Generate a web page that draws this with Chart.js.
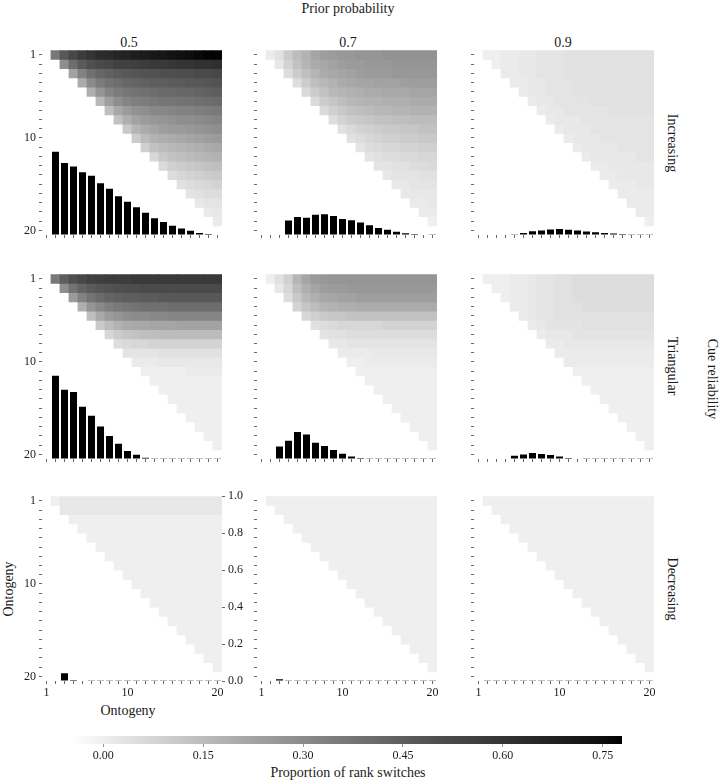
<!DOCTYPE html>
<html lang="en">
<head>
<meta charset="UTF-8">
<title>Proportion of rank switches</title>
<script src="https://cdn.jsdelivr.net/npm/chart.js"></script>
<style>
  body { margin: 0; background: #fff; }
  #page { position: relative; width: 720px; height: 782px; overflow: hidden;
           font-family: 'Liberation Serif', serif; color: #1a1a1a; }
  canvas { position: absolute; }
  .lbl { position: absolute; transform: translate(-50%, -50%); white-space: nowrap; font-size: 14px; }
  .rot { transform: translate(-50%, -50%) rotate(90deg); }
  .rotl { transform: translate(-50%, -50%) rotate(-90deg); }
</style>
</head>
<body>
<div id="page">
  <div class="lbl" style="left:348px;top:9px">Prior probability</div>
  <div class="lbl rot" style="left:712px;top:379px">Cue reliability</div>
  <div class="lbl rotl" style="left:9px;top:589px">Ontogeny</div>
  <div class="lbl" style="left:128px;top:711px">Ontogeny</div>
  <div class="lbl" style="left:348px;top:773px">Proportion of rank switches</div>
</div>

<script>
// --- data ---------------------------------------------------------------
const ontogeny = [1, 2, 3, 4, 5, 6, 7, 8, 9, 10, 11, 12, 13, 14, 15, 16, 17, 18, 19, 20];
const ontogenyLabels = [1, 10, 20];
const priorLabels = ['0.5', '0.7', '0.9'];
const reliabilityLabels = ['Increasing', 'Triangular', 'Decreasing'];
const rightTicks = [0, 0.2, 0.4, 0.6, 0.8, 1.0];
const colorTicks = [0, 0.15, 0.30, 0.45, 0.60, 0.75];
const fillMin = -0.047;
const fillMax = 0.779;

// heatmaps: row r (1..19) holds columns r+1..20
const heatInc05 = [
  [.36,.47,.53,.57,.60,.63,.64,.66,.67,.69,.70,.71,.72,.73,.74,.75,.76,.77,.77],
  [.29,.40,.46,.50,.52,.53,.55,.55,.56,.57,.58,.58,.59,.60,.60,.61,.61,.62],
  [.23,.33,.39,.42,.44,.46,.47,.48,.49,.49,.50,.50,.51,.51,.52,.52,.53],
  [.20,.30,.35,.38,.40,.42,.43,.44,.45,.45,.46,.46,.47,.47,.48,.49],
  [.19,.27,.32,.35,.37,.38,.39,.40,.41,.41,.42,.42,.43,.44,.45],
  [.16,.24,.29,.32,.34,.35,.36,.37,.37,.38,.38,.39,.40,.41],
  [.14,.21,.25,.28,.29,.31,.31,.32,.33,.33,.34,.35,.36],
  [.13,.19,.23,.25,.26,.27,.28,.29,.29,.30,.31,.32],
  [.11,.17,.20,.22,.24,.25,.25,.26,.27,.28,.29],
  [.10,.15,.18,.19,.20,.21,.22,.23,.24,.25],
  [.09,.13,.15,.16,.17,.18,.19,.20,.21],
  [.07,.11,.13,.14,.15,.16,.17,.18],
  [.06,.09,.10,.11,.12,.13,.14],
  [.05,.07,.08,.09,.10,.11],
  [.04,.05,.06,.07,.08],
  [.03,.04,.05,.05],
  [.02,.03,.03],
  [.01,.02],
  [.01]
];
const heatInc07 = [
  [.01,.04,.10,.15,.18,.22,.24,.25,.26,.26,.27,.27,.27,.28,.28,.28,.28,.28,.28],
  [.02,.08,.13,.17,.20,.21,.23,.24,.25,.25,.26,.26,.26,.27,.27,.27,.27,.27],
  [.05,.10,.14,.17,.20,.21,.22,.23,.24,.25,.25,.25,.26,.26,.26,.26,.26],
  [.05,.10,.14,.16,.18,.20,.21,.22,.22,.23,.23,.23,.24,.24,.24,.24],
  [.06,.10,.13,.16,.17,.18,.19,.20,.20,.21,.21,.21,.22,.22,.22],
  [.06,.10,.12,.14,.16,.17,.18,.18,.19,.19,.19,.20,.20,.20],
  [.06,.09,.11,.13,.14,.15,.16,.16,.17,.17,.18,.18,.18],
  [.05,.08,.10,.11,.12,.13,.13,.14,.14,.15,.15,.15],
  [.04,.06,.08,.09,.10,.11,.11,.12,.12,.13,.13],
  [.04,.05,.07,.08,.09,.09,.10,.10,.11,.11],
  [.03,.05,.06,.07,.07,.08,.08,.09,.09],
  [.03,.04,.05,.05,.06,.06,.07,.07],
  [.03,.03,.04,.04,.05,.05,.06],
  [.02,.03,.03,.03,.04,.04],
  [.02,.02,.03,.03,.03],
  [.02,.02,.02,.02],
  [.01,.01,.02],
  [.01,.01],
  [0]
];
const heatInc09 = [
  [0,0,.01,.01,.02,.02,.03,.03,.03,.04,.04,.04,.04,.04,.04,.04,.04,.04,.04],
  [0,.01,.01,.02,.02,.03,.03,.03,.04,.04,.04,.04,.04,.04,.04,.04,.04,.04],
  [.01,.01,.02,.02,.03,.03,.03,.04,.04,.04,.04,.04,.04,.04,.04,.04,.04],
  [.01,.01,.02,.02,.03,.03,.03,.04,.04,.04,.04,.04,.04,.04,.04,.04],
  [.01,.02,.02,.03,.03,.03,.04,.04,.04,.04,.04,.04,.04,.04,.04],
  [.01,.02,.02,.03,.03,.03,.03,.04,.04,.04,.04,.04,.04,.04],
  [.01,.02,.02,.03,.03,.03,.03,.03,.04,.04,.04,.04,.04],
  [.01,.02,.02,.02,.03,.03,.03,.03,.03,.03,.03,.03],
  [.01,.02,.02,.02,.03,.03,.03,.03,.03,.03,.03],
  [.01,.02,.02,.02,.03,.03,.03,.03,.03,.03],
  [.01,.02,.02,.02,.02,.03,.03,.03,.03],
  [.01,.02,.02,.02,.02,.02,.03,.03],
  [.01,.01,.02,.02,.02,.02,.02],
  [.01,.01,.02,.02,.02,.02],
  [.01,.01,.01,.02,.02],
  [.01,.01,.01,.01],
  [.01,.01,.01],
  [.01,.01],
  [0]
];
const heatTri05 = [
  [.36,.45,.50,.53,.55,.56,.57,.57,.57,.58,.58,.58,.58,.58,.58,.58,.58,.58,.58],
  [.29,.38,.43,.46,.48,.49,.50,.51,.51,.52,.52,.52,.52,.52,.52,.52,.52,.52],
  [.25,.33,.38,.41,.43,.44,.45,.45,.46,.46,.47,.47,.47,.47,.47,.47,.47],
  [.19,.27,.31,.34,.36,.37,.38,.39,.39,.39,.40,.40,.40,.40,.40,.40],
  [.14,.21,.25,.27,.29,.30,.30,.31,.31,.32,.32,.32,.32,.32,.32],
  [.11,.15,.18,.20,.21,.21,.22,.22,.22,.23,.23,.23,.23,.23],
  [.07,.10,.12,.13,.14,.14,.15,.15,.15,.15,.15,.15,.15],
  [.05,.06,.07,.07,.08,.08,.08,.08,.08,.08,.08,.08],
  [.03,.03,.03,.03,.04,.04,.04,.04,.04,.04,.04],
  [.01,.01,.01,.02,.02,.02,.02,.02,.02,.02],
  [0,0,0,0,0,.01,.01,.01,.01],
  [0,0,0,0,0,0,0,0],
  [0,0,0,0,0,0,0],
  [0,0,0,0,0,0],
  [0,0,0,0,0],
  [0,0,0,0],
  [0,0,0],
  [0,0],
  [0]
];
const heatTri07 = [
  [0,.04,.09,.17,.22,.25,.26,.27,.27,.27,.27,.27,.27,.27,.27,.27,.27,.27,.27],
  [.02,.07,.14,.19,.22,.24,.25,.25,.26,.26,.26,.26,.26,.26,.26,.26,.26,.26],
  [.05,.11,.16,.19,.21,.22,.23,.23,.24,.24,.24,.24,.24,.24,.24,.24,.24],
  [.08,.12,.15,.17,.18,.19,.19,.20,.20,.20,.20,.20,.20,.20,.20,.20],
  [.07,.09,.11,.12,.12,.13,.13,.13,.13,.13,.13,.13,.13,.13,.13],
  [.04,.05,.06,.07,.07,.07,.07,.07,.08,.08,.08,.08,.08,.08],
  [.03,.04,.04,.05,.05,.05,.05,.05,.05,.05,.05,.05,.05],
  [.02,.02,.03,.03,.03,.03,.03,.03,.03,.03,.03,.03],
  [.01,.01,.01,.01,.02,.02,.02,.02,.02,.02,.02],
  [0,0,.01,.01,.01,.01,.01,.01,.01,.01],
  [0,0,0,0,0,0,0,0,0],
  [0,0,0,0,0,0,0,0],
  [0,0,0,0,0,0,0],
  [0,0,0,0,0,0],
  [0,0,0,0,0],
  [0,0,0,0],
  [0,0,0],
  [0,0],
  [0]
];
const heatTri09 = [
  [0,0,0,.01,.01,.02,.03,.03,.04,.04,.05,.05,.05,.05,.05,.05,.05,.05,.05],
  [0,0,.01,.01,.02,.03,.03,.04,.04,.05,.05,.05,.05,.05,.05,.05,.05,.05],
  [0,.01,.01,.02,.03,.03,.04,.04,.05,.05,.05,.05,.05,.05,.05,.05,.05],
  [.01,.01,.02,.03,.03,.04,.04,.04,.05,.05,.05,.05,.05,.05,.05,.05],
  [.01,.02,.03,.03,.04,.04,.04,.04,.04,.04,.04,.04,.04,.04,.04],
  [.01,.02,.03,.03,.03,.03,.04,.04,.04,.04,.04,.04,.04,.04],
  [.01,.02,.02,.02,.03,.03,.03,.03,.03,.03,.03,.03,.03],
  [.01,.01,.02,.02,.02,.02,.02,.02,.02,.02,.02,.02],
  [.01,.01,.01,.01,.01,.01,.01,.01,.01,.01,.01],
  [.01,.01,.01,.01,.01,.01,.01,.01,.01,.01],
  [0,0,0,0,0,0,0,0,0],
  [0,0,0,0,0,0,0,0],
  [0,0,0,0,0,0,0],
  [0,0,0,0,0,0],
  [0,0,0,0,0],
  [0,0,0,0],
  [0,0,0],
  [0,0],
  [0]
];
const heatDec05 = [
  [0,.02,.02,.02,.02,.02,.02,.02,.02,.02,.02,.02,.02,.02,.02,.02,.02,.02,.02],
  [.02,.02,.02,.02,.02,.02,.02,.02,.02,.02,.02,.02,.02,.02,.02,.02,.02,.02],
  [0,0,0,0,0,0,0,0,0,0,0,0,0,0,0,0,0],
  [0,0,0,0,0,0,0,0,0,0,0,0,0,0,0,0],
  [0,0,0,0,0,0,0,0,0,0,0,0,0,0,0],
  [0,0,0,0,0,0,0,0,0,0,0,0,0,0],
  [0,0,0,0,0,0,0,0,0,0,0,0,0],
  [0,0,0,0,0,0,0,0,0,0,0,0],
  [0,0,0,0,0,0,0,0,0,0,0],
  [0,0,0,0,0,0,0,0,0,0],
  [0,0,0,0,0,0,0,0,0],
  [0,0,0,0,0,0,0,0],
  [0,0,0,0,0,0,0],
  [0,0,0,0,0,0],
  [0,0,0,0,0],
  [0,0,0,0],
  [0,0,0],
  [0,0],
  [0]
];
const heatDec07 = [
  [0,0,0,0,0,0,0,0,0,0,0,0,0,0,0,0,0,0,0],
  [0,0,0,0,0,0,0,0,0,0,0,0,0,0,0,0,0,0],
  [0,0,0,0,0,0,0,0,0,0,0,0,0,0,0,0,0],
  [0,0,0,0,0,0,0,0,0,0,0,0,0,0,0,0],
  [0,0,0,0,0,0,0,0,0,0,0,0,0,0,0],
  [0,0,0,0,0,0,0,0,0,0,0,0,0,0],
  [0,0,0,0,0,0,0,0,0,0,0,0,0],
  [0,0,0,0,0,0,0,0,0,0,0,0],
  [0,0,0,0,0,0,0,0,0,0,0],
  [0,0,0,0,0,0,0,0,0,0],
  [0,0,0,0,0,0,0,0,0],
  [0,0,0,0,0,0,0,0],
  [0,0,0,0,0,0,0],
  [0,0,0,0,0,0],
  [0,0,0,0,0],
  [0,0,0,0],
  [0,0,0],
  [0,0],
  [0]
];
const heatDec09 = [
  [0,0,0,0,0,0,0,0,0,0,0,0,0,0,0,0,0,0,0],
  [0,0,0,0,0,0,0,0,0,0,0,0,0,0,0,0,0,0],
  [0,0,0,0,0,0,0,0,0,0,0,0,0,0,0,0,0],
  [0,0,0,0,0,0,0,0,0,0,0,0,0,0,0,0],
  [0,0,0,0,0,0,0,0,0,0,0,0,0,0,0],
  [0,0,0,0,0,0,0,0,0,0,0,0,0,0],
  [0,0,0,0,0,0,0,0,0,0,0,0,0],
  [0,0,0,0,0,0,0,0,0,0,0,0],
  [0,0,0,0,0,0,0,0,0,0,0],
  [0,0,0,0,0,0,0,0,0,0],
  [0,0,0,0,0,0,0,0,0],
  [0,0,0,0,0,0,0,0],
  [0,0,0,0,0,0,0],
  [0,0,0,0,0,0],
  [0,0,0,0,0],
  [0,0,0,0],
  [0,0,0],
  [0,0],
  [0]
];

// bars (right axis, 0..1), one value per ontogeny step 1..20
const barsInc05 = [0,.45,.39,.37,.34,.32,.28,.25,.21,.18,.15,.12,.09,.07,.05,.035,.023,.011,.006,.003];
const barsInc07 = [0,0,0,.078,.098,.094,.109,.112,.103,.087,.080,.067,.053,.038,.029,.018,.010,.005,.003,.002];
const barsInc09 = [0,0,0,0,.004,.011,.020,.025,.030,.032,.028,.024,.019,.015,.011,.008,.006,.004,.002,.001];
const barsTri05 = [0,.45,.375,.362,.283,.234,.176,.124,.083,.043,.023,.007,.004,.002,.001,.001,.001,.001,.001,.001];
const barsTri07 = [0,0,.067,.099,.146,.132,.088,.070,.049,.029,.013,.005,.002,.001,.001,.001,.001,.001,.001,.001];
const barsTri09 = [0,0,0,0,.018,.024,.033,.027,.022,.013,.005,.003,.001,.001,.001,.001,.001,.001,.001,.001];
const barsDec05 = [0,0,.042,.006,.003,.002,.002,.002,.002,.002,.001,.001,.001,.001,.001,.001,.001,.001,.001,.001];
const barsDec07 = [0,.003,.010,.004,.002,.002,.002,.001,.001,.001,.001,.001,.001,.001,.001,.001,.001,.001,.001,.001];
const barsDec09 = [0,.004,.004,.002,.001,.001,.001,.001,.001,.001,.001,.001,.001,.001,.001,.001,.001,.001,.001,.001];

const panels = [
  [[heatInc05, barsInc05], [heatInc07, barsInc07], [heatInc09, barsInc09]],
  [[heatTri05, barsTri05], [heatTri07, barsTri07], [heatTri09, barsTri09]],
  [[heatDec05, barsDec05], [heatDec07, barsDec07], [heatDec09, barsDec09]]
];

// --- layout -------------------------------------------------------------
const panelLeft = [42, 257, 474];
const panelTop = [50, 274, 496];
const panelW = 180, panelH = 185;
const leftAxisW = 36, rightAxisW = 30, bottomAxisH = 30, topPad = 10;

const ink = '#1a1a1a';
const tickInk = '#666';
const serif = "'Liberation Serif', serif";
const page = document.getElementById('page');

// white -> black, interpolated in L*
function fillFor(v) {
  const t = Math.min(1, Math.max(0, (v - fillMin) / (fillMax - fillMin)));
  const L = 100 * (1 - t);
  const fy = (L + 16) / 116;
  const Y = L > 8 ? fy * fy * fy : L / 903.3;
  const c = Y <= 0.0031308 ? 12.92 * Y : 1.055 * Math.pow(Y, 1 / 2.4) - 0.055;
  const g = Math.round(255 * Math.min(1, Math.max(0, c)));
  return `rgb(${g},${g},${g})`;
}

function addLabel(text, x, y, cls) {
  const d = document.createElement('div');
  d.className = 'lbl' + (cls ? ' ' + cls : '');
  d.style.left = x + 'px';
  d.style.top = y + 'px';
  d.textContent = text;
  page.appendChild(d);
}

// facet strips
const stripX = [129, 348, 563];
priorLabels.forEach((t, i) => addLabel(t, stripX[i], 43));
const stripY = [143, 366, 589];
reliabilityLabels.forEach((t, i) => addLabel(t, 672, stripY[i], 'rot'));

function makePanel(row, col) {
  const [heat, bars] = panels[row][col];
  const showY = col === 0;
  const showX = row === 2;
  const showRight = row === 2 && col === 0;

  const canvas = document.createElement('canvas');
  canvas.width = leftAxisW + panelW + rightAxisW;
  canvas.height = topPad + panelH + bottomAxisH;
  canvas.style.left = (panelLeft[col] - leftAxisW) + 'px';
  canvas.style.top = (panelTop[row] - topPad) + 'px';
  page.appendChild(canvas);

  const datasets = [{
    data: bars.map((v, i) => ({ x: ontogeny[i], y: v })),
    yAxisID: 'y2',
    backgroundColor: '#000',
    borderWidth: 0,
    barPercentage: 0.78,
    categoryPercentage: 1,
    grouped: false,
    inflateAmount: 0
  }];
  heat.forEach((cells, r) => {
    datasets.push({
      data: cells.map((v, k) => ({ x: ontogeny[r + 1 + k], y: [r + 0.5, r + 1.5] })),
      yAxisID: 'y',
      backgroundColor: cells.map(fillFor),
      borderWidth: 0,
      barPercentage: 1,
      categoryPercentage: 1,
      grouped: false,
      inflateAmount: 0.4
    });
  });

  const tickFont = { family: serif, size: 12 };
  new Chart(canvas, {
    type: 'bar',
    data: { datasets },
    options: {
      responsive: false,
      animation: false,
      events: [],
      layout: { padding: { top: topPad, left: 0, right: 0, bottom: 0 } },
      plugins: { legend: { display: false }, tooltip: { enabled: false } },
      scales: {
        x: {
          type: 'linear', min: 0.5, max: 20.5, offset: false,
          afterBuildTicks: s => { s.ticks = ontogeny.map(v => ({ value: v })); },
          afterFit: s => { s.height = bottomAxisH; },
          ticks: {
            autoSkip: false, maxRotation: 0, padding: 2, color: ink, font: tickFont,
            callback: v => (showX && ontogenyLabels.includes(v)) ? String(v) : ''
          },
          grid: { drawOnChartArea: false, offset: false, tickLength: 3, color: tickInk },
          border: { display: false }
        },
        y: {
          type: 'linear', position: 'left', reverse: true, min: 0.5, max: 20.5,
          afterBuildTicks: s => { s.ticks = ontogeny.map(v => ({ value: v })); },
          afterFit: s => { s.width = leftAxisW; },
          ticks: {
            autoSkip: false, padding: 3, color: ink, font: tickFont,
            callback: v => (showY && ontogenyLabels.includes(v)) ? String(v) : ''
          },
          grid: { drawOnChartArea: false, tickLength: 3, color: tickInk },
          border: { display: false }
        },
        y2: {
          type: 'linear', position: 'right', min: 0, max: 1,
          afterBuildTicks: s => { s.ticks = rightTicks.map(v => ({ value: v })); },
          afterFit: s => { s.width = rightAxisW; },
          ticks: {
            autoSkip: false, padding: 3, color: ink, font: tickFont,
            callback: v => showRight ? v.toFixed(1) : ''
          },
          grid: { drawOnChartArea: false, drawTicks: showRight, tickLength: 3, color: tickInk },
          border: { display: false }
        }
      }
    }
  });
}

for (let r = 0; r < 3; r++) {
  for (let c = 0; c < 3; c++) makePanel(r, c);
}

// --- colour bar ---------------------------------------------------------
const cbCanvas = document.createElement('canvas');
cbCanvas.width = 620;
cbCanvas.height = 45;
cbCanvas.style.left = '40px';
cbCanvas.style.top = '730px';
page.appendChild(cbCanvas);

function barGradient(chart) {
  const area = chart.chartArea;
  if (!area) return '#ccc';
  const xs = chart.scales.x;
  const x0 = xs.getPixelForValue(fillMin), x1 = xs.getPixelForValue(fillMax);
  const g = chart.ctx.createLinearGradient(x0, 0, x1, 0);
  for (let i = 0; i <= 24; i++) {
    g.addColorStop(i / 24, fillFor(fillMin + (fillMax - fillMin) * i / 24));
  }
  return g;
}

new Chart(cbCanvas, {
  type: 'bar',
  data: {
    labels: ['fill'],
    datasets: [{
      data: [[fillMin, fillMax]],
      backgroundColor: ctx => barGradient(ctx.chart),
      borderWidth: 0,
      barPercentage: 1,
      categoryPercentage: 1
    }]
  },
  options: {
    indexAxis: 'y',
    responsive: false,
    animation: false,
    events: [],
    layout: { padding: { top: 6, left: 32, right: 38, bottom: 0 } },
    plugins: { legend: { display: false }, tooltip: { enabled: false } },
    scales: {
      x: {
        type: 'linear', min: fillMin, max: fillMax,
        afterBuildTicks: s => { s.ticks = colorTicks.map(v => ({ value: v })); },
        afterFit: s => { s.height = 31; },
        ticks: { autoSkip: false, maxRotation: 0, padding: 2, color: ink,
                 font: { family: serif, size: 12 }, callback: v => v.toFixed(2) },
        grid: { drawOnChartArea: false, tickLength: 3, color: '#999' },
        border: { display: false }
      },
      y: { display: false }
    }
  }
});
</script>
</body>
</html>
